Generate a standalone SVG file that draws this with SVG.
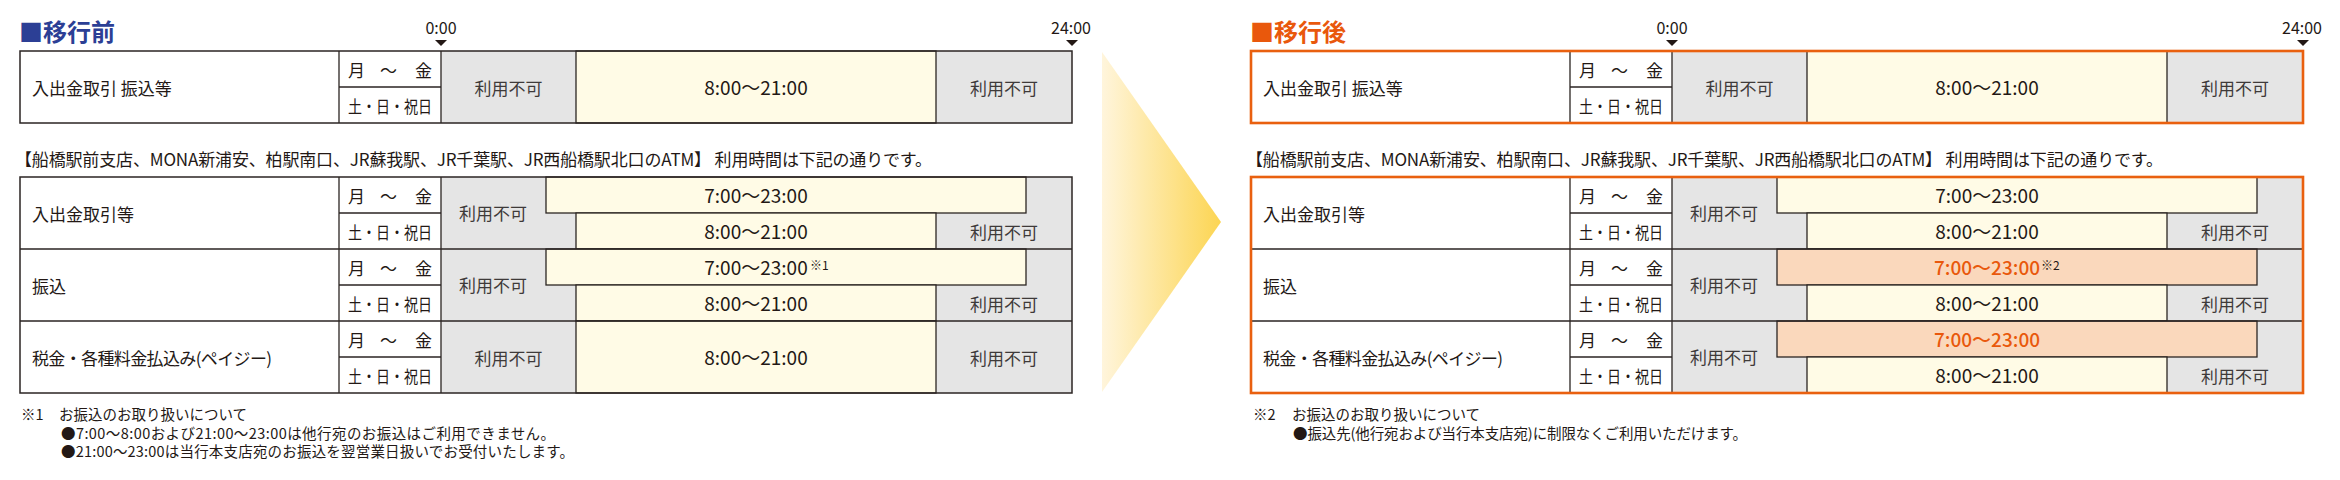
<svg xmlns="http://www.w3.org/2000/svg" width="2340" height="480" viewBox="0 0 2340 480">
<defs>
<linearGradient id="arrowGrad" x1="0" y1="0" x2="1" y2="0">
<stop offset="0" stop-color="#fff5dc"/>
<stop offset="1" stop-color="#fcd552"/>
</linearGradient>
<style>
.t{font-family:"Noto Sans CJK JP","Noto Sans",sans-serif;fill:#231815}
.ttl{font-size:24px;font-weight:bold}
.lbl{font-size:17px}
.hd{font-size:17px}
.tm{font-size:19px;text-anchor:middle}
.tmo{font-size:19px;text-anchor:middle;fill:#e9580c;font-weight:500}
.sup{font-size:12px}
.na{font-size:17px;text-anchor:middle;fill:#3e3a39}
.mk{font-size:16px;text-anchor:middle}
.fn{font-size:14.5px}
.bg{fill:#ffffff}
.gray{fill:#e5e5e5}
.yel{fill:#fffbe6;stroke:#2b2523;stroke-width:1.3}
.pch{fill:#fad8bc;stroke:#2b2523;stroke-width:1.3}
.ln{stroke:#2b2523;stroke-width:1.3;fill:none}
.bd{fill:none;stroke:#2b2523;stroke-width:1.5}
.bdo{fill:none;stroke:#e9600f;stroke-width:2.6}
.tri{fill:#231815}
</style>
</defs>

<!-- ===== BEFORE ===== -->
<g id="before-title">
<text class="t ttl" x="19" y="41" style="fill:#2c3f95">■移行前</text>
</g>

<g id="before-timeline">
<text class="t mk" x="441" y="34">0:00</text>
<path class="tri" d="M435 40H447L441 46Z"/>
<text class="t mk" x="1071" y="34">24:00</text>
<path class="tri" d="M1066 40H1078L1072 46Z"/>
</g>

<g id="before-table1">
<rect class="bg" x="20" y="51" width="1052" height="72"/>
<rect class="gray" x="441" y="51" width="631" height="72"/>
<rect class="yel" x="576" y="51" width="360" height="72"/>
<path class="ln" d="M339 51V123M441 51V123M339 87H441"/>
<rect class="bd" x="20" y="51" width="1052" height="72"/>
<text class="t lbl" x="32" y="94.5">入出金取引 振込等</text>
<text class="t lbl" y="76.5"><tspan x="348">月</tspan><tspan x="380">～</tspan><tspan x="415">金</tspan></text>
<text class="t lbl" x="348" y="112.5" textLength="84" lengthAdjust="spacingAndGlyphs">土・日・祝日</text>
<text class="t na" x="508.5" y="94.5">利用不可</text>
<text class="t tm" x="756" y="95">8:00～21:00</text>
<text class="t na" x="1004" y="94.5">利用不可</text>
</g>

<g id="before-heading">
<text class="t hd" x="15" y="166" textLength="917">【船橋駅前支店、MONA新浦安、柏駅南口、JR蘇我駅、JR千葉駅、JR西船橋駅北口のATM】 利用時間は下記の通りです。</text>
</g>

<g id="before-table2">
<rect class="bg" x="20" y="177" width="1052" height="216"/>
<rect class="gray" x="441" y="177" width="631" height="216"/>
<rect class="yel" x="546" y="177" width="480" height="36"/>
<rect class="yel" x="576" y="213" width="360" height="36"/>
<rect class="yel" x="546" y="249" width="480" height="36"/>
<rect class="yel" x="576" y="285" width="360" height="36"/>
<rect class="yel" x="576" y="321" width="360" height="72"/>
<path class="ln" d="M339 177V393M441 177V393M20 249H1072M20 321H1072M339 213H441M339 285H441M339 357H441"/>
<rect class="bd" x="20" y="177" width="1052" height="216"/>
<text class="t lbl" x="32" y="220.5">入出金取引等</text>
<text class="t lbl" y="202.5"><tspan x="348">月</tspan><tspan x="380">～</tspan><tspan x="415">金</tspan></text>
<text class="t lbl" x="348" y="238.5" textLength="84" lengthAdjust="spacingAndGlyphs">土・日・祝日</text>
<text class="t na" x="493" y="219.5">利用不可</text>
<text class="t tm" x="756" y="203">7:00～23:00</text>
<text class="t tm" x="756" y="239">8:00～21:00</text>
<text class="t na" x="1004" y="238.5">利用不可</text>
<text class="t lbl" x="32" y="292.5">振込</text>
<text class="t lbl" y="274.5"><tspan x="348">月</tspan><tspan x="380">～</tspan><tspan x="415">金</tspan></text>
<text class="t lbl" x="348" y="310.5" textLength="84" lengthAdjust="spacingAndGlyphs">土・日・祝日</text>
<text class="t na" x="493" y="291.5">利用不可</text>
<text class="t tm" x="756" y="275">7:00～23:00</text>
<text class="t sup" x="810" y="270">※1</text>
<text class="t tm" x="756" y="311">8:00～21:00</text>
<text class="t na" x="1004" y="310.5">利用不可</text>
<text class="t lbl" x="32" y="364.5" textLength="240">税金・各種料金払込み(ペイジー)</text>
<text class="t lbl" y="346.5"><tspan x="348">月</tspan><tspan x="380">～</tspan><tspan x="415">金</tspan></text>
<text class="t lbl" x="348" y="382.5" textLength="84" lengthAdjust="spacingAndGlyphs">土・日・祝日</text>
<text class="t na" x="508.5" y="364.5">利用不可</text>
<text class="t tm" x="756" y="365">8:00～21:00</text>
<text class="t na" x="1004" y="364.5">利用不可</text>
</g>

<g id="before-footnote">
<text class="t fn" x="21" y="420">※1</text>
<text class="t fn" x="59" y="420">お振込のお取り扱いについて</text>
<text class="t fn" x="61" y="438.5" textLength="494">●7:00～8:00および21:00～23:00は他行宛のお振込はご利用できません。</text>
<text class="t fn" x="61" y="457" textLength="513">●21:00～23:00は当行本支店宛のお振込を翌営業日扱いでお受付いたします。</text>
</g>

<!-- ===== ARROW ===== -->
<g id="arrow">
<polygon points="1102,52 1221,222 1102,392" fill="url(#arrowGrad)"/>
</g>

<!-- ===== AFTER ===== -->
<g id="after-title" transform="translate(1231,0)">
<text class="t ttl" x="19" y="41" style="fill:#e9580c">■移行後</text>
</g>

<g id="after-timeline" transform="translate(1231,0)">
<text class="t mk" x="441" y="34">0:00</text>
<path class="tri" d="M435 40H447L441 46Z"/>
<text class="t mk" x="1071" y="34">24:00</text>
<path class="tri" d="M1066 40H1078L1072 46Z"/>
</g>

<g id="after-table1" transform="translate(1231,0)">
<rect class="bg" x="20" y="51" width="1052" height="72"/>
<rect class="gray" x="441" y="51" width="631" height="72"/>
<rect class="yel" x="576" y="51" width="360" height="72"/>
<path class="ln" d="M339 51V123M441 51V123M339 87H441"/>
<rect class="bdo" x="20" y="51" width="1052" height="72"/>
<text class="t lbl" x="32" y="94.5">入出金取引 振込等</text>
<text class="t lbl" y="76.5"><tspan x="348">月</tspan><tspan x="380">～</tspan><tspan x="415">金</tspan></text>
<text class="t lbl" x="348" y="112.5" textLength="84" lengthAdjust="spacingAndGlyphs">土・日・祝日</text>
<text class="t na" x="508.5" y="94.5">利用不可</text>
<text class="t tm" x="756" y="95">8:00～21:00</text>
<text class="t na" x="1004" y="94.5">利用不可</text>
</g>

<g id="after-heading" transform="translate(1231,0)">
<text class="t hd" x="15" y="166" textLength="917">【船橋駅前支店、MONA新浦安、柏駅南口、JR蘇我駅、JR千葉駅、JR西船橋駅北口のATM】 利用時間は下記の通りです。</text>
</g>

<g id="after-table2" transform="translate(1231,0)">
<rect class="bg" x="20" y="177" width="1052" height="216"/>
<rect class="gray" x="441" y="177" width="631" height="216"/>
<rect class="yel" x="546" y="177" width="480" height="36"/>
<rect class="yel" x="576" y="213" width="360" height="36"/>
<rect class="pch" x="546" y="249" width="480" height="36"/>
<rect class="yel" x="576" y="285" width="360" height="36"/>
<rect class="pch" x="546" y="321" width="480" height="36"/>
<rect class="yel" x="576" y="357" width="360" height="36"/>
<path class="ln" d="M339 177V393M441 177V393M20 249H1072M20 321H1072M339 213H441M339 285H441M339 357H441"/>
<rect class="bdo" x="20" y="177" width="1052" height="216"/>
<text class="t lbl" x="32" y="220.5">入出金取引等</text>
<text class="t lbl" y="202.5"><tspan x="348">月</tspan><tspan x="380">～</tspan><tspan x="415">金</tspan></text>
<text class="t lbl" x="348" y="238.5" textLength="84" lengthAdjust="spacingAndGlyphs">土・日・祝日</text>
<text class="t na" x="493" y="219.5">利用不可</text>
<text class="t tm" x="756" y="203">7:00～23:00</text>
<text class="t tm" x="756" y="239">8:00～21:00</text>
<text class="t na" x="1004" y="238.5">利用不可</text>
<text class="t lbl" x="32" y="292.5">振込</text>
<text class="t lbl" y="274.5"><tspan x="348">月</tspan><tspan x="380">～</tspan><tspan x="415">金</tspan></text>
<text class="t lbl" x="348" y="310.5" textLength="84" lengthAdjust="spacingAndGlyphs">土・日・祝日</text>
<text class="t na" x="493" y="291.5">利用不可</text>
<text class="t tmo" x="756" y="275">7:00～23:00</text>
<text class="t sup" x="810" y="270">※2</text>
<text class="t tm" x="756" y="311">8:00～21:00</text>
<text class="t na" x="1004" y="310.5">利用不可</text>
<text class="t lbl" x="32" y="364.5" textLength="240">税金・各種料金払込み(ペイジー)</text>
<text class="t lbl" y="346.5"><tspan x="348">月</tspan><tspan x="380">～</tspan><tspan x="415">金</tspan></text>
<text class="t lbl" x="348" y="382.5" textLength="84" lengthAdjust="spacingAndGlyphs">土・日・祝日</text>
<text class="t na" x="493" y="363.5">利用不可</text>
<text class="t tmo" x="756" y="347">7:00～23:00</text>
<text class="t tm" x="756" y="383">8:00～21:00</text>
<text class="t na" x="1004" y="382.5">利用不可</text>
</g>

<g id="after-footnote" transform="translate(1231,0)">
<text class="t fn" x="22" y="420">※2</text>
<text class="t fn" x="61" y="420">お振込のお取り扱いについて</text>
<text class="t fn" x="62" y="438.5" textLength="454">●振込先(他行宛および当行本支店宛)に制限なくご利用いただけます。</text>
</g>
</svg>
